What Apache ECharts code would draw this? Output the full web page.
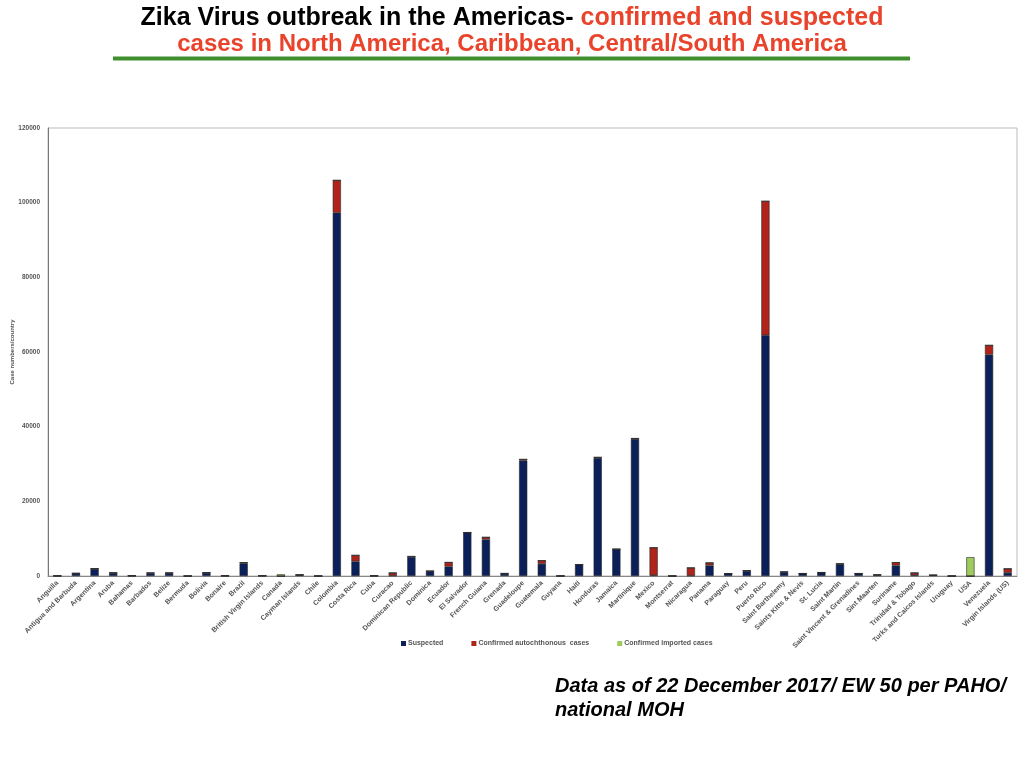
<!DOCTYPE html>
<html><head><meta charset="utf-8">
<script src="https://cdn.jsdelivr.net/npm/echarts@6/dist/echarts.min.js"></script>
<style>html,body{margin:0;padding:0;background:#fff}#c{width:1024px;height:768px}</style>
</head><body><div id="c"></div>
<script>
const categories = ["Anguilla","Antigua and Barbuda","Argentina","Aruba","Bahamas","Barbados","Belize","Bermuda","Bolivia","Bonaire","Brazil","British Virgin Islands","Canada","Cayman Islands","Chile","Colombia","Costa Rica","Cuba","Curacao","Dominican Republic","Dominica","Ecuador","El Salvador","French Guiana","Grenada","Guadeloupe","Guatemala","Guyana","Haiti","Honduras","Jamaica","Martinique","Mexico","Montserrat","Nicaragua","Panama","Paraguay","Peru","Puerto Rico","Saint Barthelemy","Saints Kitts & Nevis","St. Lucia","Saint Martin","Saint Vincent & Grenadines","Sint Maarten","Suriname","Trinidad & Tobago","Turks and Caicos Islands","Uruguay","USA","Venezuela","Virgin Islands (US)"];
const suspected = [30,700,1900,800,50,700,750,0,850,50,3400,50,0,300,0,97300,3900,0,100,5100,1250,2550,11600,9780,600,30900,3270,0,3050,31600,7150,36700,200,0,100,2820,650,1350,64500,1000,650,900,3150,650,250,2820,200,200,0,0,59300,860];
const autochthonous = [20,20,100,70,25,150,100,0,60,20,200,30,0,30,0,8700,1650,100,750,150,80,1100,60,600,100,350,880,40,30,200,50,150,7400,20,2100,720,20,100,35900,130,30,50,150,30,100,800,650,50,0,0,2500,1100];
const imported = [0,0,0,0,0,0,0,0,0,0,0,0,450,0,30,0,0,0,0,0,0,0,0,0,0,0,0,0,0,0,0,0,0,0,0,0,0,0,0,0,0,0,0,0,0,0,0,0,0,5050,0,0];
const yTicks = [0,20000,40000,60000,80000,100000,120000];
const seriesNames = ["Suspected","Confirmed autochthonous  cases","Confirmed imported cases"];

const chart = echarts.init(document.getElementById('c'));
const F = "'Liberation Sans', Arial, sans-serif";
const barStyle = (c) => ({color: c, borderColor: '#2a2a2a', borderWidth: 0.6});
chart.setOption({
  animation: false,
  textStyle: {fontFamily: F},
  grid: {left: 48, right: 7, top: 128, bottom: 192, containLabel: false, outerBoundsMode: 'none',
         show: true, borderColor: '#bbbbbb', borderWidth: 1},
  legend: {
    bottom: 116, left: 396, itemGap: 28, itemWidth: 5, itemHeight: 5, icon: 'rect',
    itemStyle: {borderWidth: 0},
    textStyle: {fontSize: 7, color: '#555', fontFamily: F, fontWeight: 'bold', padding: [0,0,0,-3]},
    data: seriesNames
  },
  xAxis: {
    type: 'category', data: categories,
    axisLine: {lineStyle: {color: '#888'}},
    axisTick: {show: false},
    axisLabel: {interval: 0, rotate: 45, fontSize: 7, color: '#555', margin: 6, fontWeight: 'bold'}
  },
  yAxis: {
    type: 'value', min: 0, max: 120000, interval: 20000,
    name: 'Case numbers/country', nameLocation: 'middle', nameGap: 33, nameRotate: 90,
    nameMoveOverlap: false,
    nameTextStyle: {fontSize: 6, color: '#555', fontWeight: 'bold'},
    axisLine: {show: true, lineStyle: {color: '#777'}},
    axisTick: {show: false},
    splitLine: {show: false},
    axisLabel: {fontSize: 6.5, color: '#555', margin: 8, fontWeight: 'bold',
      formatter: v => yTicks.includes(v) ? String(v) : ''}
  },
  series: [
    {name: seriesNames[0], type: 'bar', stack: 's', data: suspected, barWidth: '44%', itemStyle: barStyle('#0b1f5a')},
    {name: seriesNames[1], type: 'bar', stack: 's', data: autochthonous, itemStyle: barStyle('#b0231a')},
    {name: seriesNames[2], type: 'bar', stack: 's', data: imported, itemStyle: barStyle('#9dcb5e')}
  ],
  graphic: [
    {type: 'text', left: 'center', top: 6, x: -12, style: {
      text: '{a|Zika Virus outbreak in the Americas- }{b|confirmed and suspected}',
      rich: {a: {fontSize: 25, fontWeight: 'bold', fill: '#000', fontFamily: F},
             b: {fontSize: 25, fontWeight: 'bold', fill: '#e9432b', fontFamily: F}}
    }},
    {type: 'text', left: 'center', top: 32, x: 9, style: {
      text: 'cases in North America, Caribbean, Central/South America',
      fontSize: 24, fontWeight: 'bold', fill: '#e9432b', fontFamily: F
    }},
    {type: 'line', shape: {x1: 113, y1: 58.5, x2: 910, y2: 58.5}, style: {stroke: '#3f8f2f', lineWidth: 4}},
    {type: 'text', left: 555, top: 674, style: {
      text: 'Data as of 22 December 2017/ EW 50 per PAHO/\nnational MOH',
      fontSize: 20, fontWeight: 'bold', fontStyle: 'italic', fill: '#000', lineHeight: 24, fontFamily: F
    }}
  ]
});
</script></body></html>
